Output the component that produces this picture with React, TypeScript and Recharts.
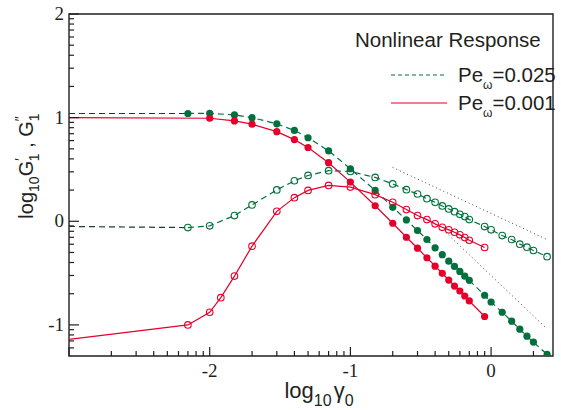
import { ComposedChart, Line, XAxis, YAxis, ReferenceArea, ReferenceLine, Label } from 'recharts';

// log10(gamma0) grid used for the Pe=0.025 runs
const xGreen = [-2.155, -2.0, -1.824, -1.699, -1.523, -1.398, -1.301, -1.155, -1.0, -0.824, -0.699, -0.602, -0.523, -0.456, -0.398, -0.347, -0.301, -0.26, -0.222, -0.187, -0.155, -0.046, 0, 0.079, 0.146, 0.204, 0.255, 0.301, 0.398];
const gpGreen = [1.04, 1.042, 1.026, 1.0, 0.94, 0.877, 0.806, 0.68, 0.507, 0.298, 0.135, 0.013, -0.089, -0.176, -0.256, -0.322, -0.385, -0.436, -0.484, -0.53, -0.57, -0.714, -0.779, -0.878, -0.964, -1.041, -1.109, -1.166, -1.285];
const gppGreen = [-0.061, -0.044, 0.055, 0.158, 0.302, 0.391, 0.442, 0.488, 0.481, 0.423, 0.36, 0.305, 0.263, 0.218, 0.183, 0.148, 0.119, 0.093, 0.067, 0.045, 0.016, -0.051, -0.083, -0.138, -0.176, -0.221, -0.25, -0.282, -0.342];

// Pe=0.001 runs
const xRedP = [-2.0, -1.824, -1.699, -1.523, -1.398, -1.301, -1.155, -1.0, -0.824, -0.699, -0.602, -0.523, -0.456, -0.398, -0.347, -0.301, -0.26, -0.222, -0.187, -0.155, -0.046];
const gpRed = [0.994, 0.968, 0.937, 0.865, 0.788, 0.712, 0.565, 0.378, 0.15, -0.019, -0.154, -0.26, -0.352, -0.433, -0.502, -0.567, -0.625, -0.673, -0.721, -0.769, -0.919];
const xRedPP = [-2.155, -2.0, -1.921, -1.824, -1.699, -1.523, -1.398, -1.301, -1.155, -1.0, -0.824, -0.699, -0.602, -0.523, -0.456, -0.398, -0.347, -0.301, -0.26, -0.222, -0.187, -0.155, -0.046];
const gppRed = [-1.0, -0.878, -0.737, -0.529, -0.24, 0.096, 0.228, 0.298, 0.346, 0.33, 0.257, 0.183, 0.113, 0.055, 0.016, -0.025, -0.058, -0.083, -0.106, -0.131, -0.157, -0.183, -0.253];

// linear-response values continued to the left edge (no markers)
const leadX = -3;
const leadGpGreen = 1.04;
const leadGppGreen = -0.05;
const leadGpRed = 1.0;
const leadGppRed = -1.14;

// power-law guide lines
const guide1 = [{ x: -0.7, y: 0.52 }, { x: 0.4, y: -0.178 }];
const guide2 = [{ x: -0.343, y: -0.08 }, { x: 0.396, y: -1.036 }];

const GREEN = '#00703c';
const GREEN_DARK = '#1c3d2c';
const RED = '#e4002b';
const INK = '#231f20';
const SERIF = "'Liberation Serif', 'Times New Roman', Times, serif";
const SANS = "'Liberation Sans', Arial, sans-serif";

const xMajor = [-2, -1, 0];
const yMajor = [-1, 0, 1, 2];
const X_MIN = -3, X_MAX = 0.44, Y_MIN = -1.3, Y_MAX = 2;

function logTicks(lo: number, hi: number) {
  const out: number[] = [];
  for (let k = Math.floor(lo) - 1; k <= Math.ceil(hi); k++) {
    for (let m = 1; m <= 9; m++) {
      const v = k + Math.log10(m);
      if (v >= lo - 1e-9 && v <= hi + 1e-9) out.push(+v.toFixed(4));
    }
  }
  return out;
}

const pts = (xs: number[], ys: number[]) => xs.map((x, i) => ({ x, y: ys[i] }));
const leadIn = (xs: number[], ys: number[], lead: number) => [{ x: leadX, y: lead }, { x: xs[0], y: ys[0] }];

const isMajor = (v: number) => Math.abs(v - Math.round(v)) < 1e-6;
const fmt = (v: number) => (v < 0 ? '-' + Math.abs(Math.round(v)) : String(Math.round(v)));

const XTick = ({ x, y, payload }: any) => {
  const v = payload.value;
  const major = isMajor(v);
  return (
    <g>
      <line x1={x} x2={x} y1={y} y2={y - (major ? 9 : 5)} stroke={INK} strokeWidth={1.2} />
      {major && xMajor.includes(Math.round(v)) && (
        <text x={x} y={y + 21} textAnchor="middle" fontFamily={SERIF} fontSize={19} style={{ fontFamily: SERIF }} fill={INK}>
          {fmt(v)}
        </text>
      )}
    </g>
  );
};

const YTick = ({ x, y, payload }: any) => {
  const v = payload.value;
  const major = isMajor(v);
  return (
    <g>
      <line x1={x} x2={x + (major ? 10 : 5)} y1={y} y2={y} stroke={INK} strokeWidth={1.2} />
      {major && yMajor.includes(Math.round(v)) && (
        <text x={x - 5} y={y + 6} textAnchor="end" fontFamily={SERIF} fontSize={19} style={{ fontFamily: SERIF }} fill={INK}>
          {fmt(v)}
        </text>
      )}
    </g>
  );
};

const dotFor = (color: string, filled: boolean) => (props: any) => {
  const { cx, cy, index } = props;
  return filled ? (
    <circle key={`d-${index}`} cx={cx} cy={cy} r={3.6} fill={color} stroke="none" />
  ) : (
    <circle key={`d-${index}`} cx={cx} cy={cy} r={3.3} fill="none" stroke={color} strokeWidth={1.1} />
  );
};

const XLabel = ({ viewBox }: any) => {
  const cx = viewBox.x + viewBox.width / 2 + 8;
  const y = viewBox.y + 42;
  return (
    <text x={cx} y={y} textAnchor="middle" style={{ fontFamily: SANS, fontSize: 22 }} fill={INK}>
      log<tspan style={{ fontSize: 16 }} dy={8}>10</tspan>
      <tspan dy={-8} dx={2}>γ</tspan>
      <tspan style={{ fontSize: 16 }} dy={8}>0</tspan>
    </text>
  );
};

const YLabel = () => (
  <text transform="translate(33,166) rotate(-90)" textAnchor="middle" style={{ fontFamily: SANS, fontSize: 20 }} fill={INK}>
    log<tspan style={{ fontSize: 14 }} dy={6}>10</tspan>
    <tspan dy={-6}>G</tspan>
    <tspan style={{ fontSize: 14 }} dy={-8}>′</tspan>
    <tspan style={{ fontSize: 14 }} dx={-3} dy={14}>1</tspan>
    <tspan dy={-6}> , G</tspan>
    <tspan style={{ fontSize: 14 }} dy={-8}>″</tspan>
    <tspan style={{ fontSize: 14 }} dx={-5} dy={14}>1</tspan>
  </text>
);

function LegendBox() {
  const base = { fontFamily: SANS, fontSize: 20.5 };
  return (
    <svg width={561} height={410} style={{ position: 'absolute', left: 0, top: 0, pointerEvents: 'none' }}>
      <text x={355} y={47} style={base} fill={INK}>Nonlinear Response</text>
      <line x1={391} x2={447} y1={75} y2={75} stroke={GREEN} strokeWidth={1.2} strokeDasharray="4 3" />
      <text x={458} y={82} style={base} fill={INK}>
        Pe<tspan style={{ fontSize: 12 }} dy={7}>ω</tspan><tspan dy={-7}>=0.025</tspan>
      </text>
      <line x1={391} x2={447} y1={103} y2={103} stroke={RED} strokeWidth={1.2} />
      <text x={458} y={110} style={base} fill={INK}>
        Pe<tspan style={{ fontSize: 12 }} dy={7}>ω</tspan><tspan dy={-7}>=0.001</tspan>
      </text>
    </svg>
  );
}

export default function App() {
  return (
    <div style={{ position: 'absolute', left: 0, top: 0, width: 561, height: 410, background: '#fff' }}>
      <ComposedChart width={561} height={410} margin={{ top: 14, right: 8, bottom: 24, left: 9 }}>
        <XAxis
          type="number"
          dataKey="x"
          domain={[X_MIN, X_MAX]}
          allowDataOverflow
          ticks={logTicks(X_MIN, X_MAX)}
          interval={0}
          tickSize={0}
          tickMargin={0}
          axisLine={false}
          tickLine={false}
          tick={<XTick />}
          height={30}
        >
          <Label content={<XLabel />} />
        </XAxis>
        <YAxis
          type="number"
          domain={[Y_MIN, Y_MAX]}
          allowDataOverflow
          ticks={logTicks(Y_MIN, Y_MAX)}
          interval={0}
          tickSize={0}
          tickMargin={0}
          axisLine={false}
          tickLine={false}
          tick={<YTick />}
          width={60}
        >
          <Label content={<YLabel />} />
        </YAxis>
        <ReferenceArea x1={X_MIN} x2={X_MAX} y1={Y_MIN} y2={Y_MAX} fill="none" stroke={INK} strokeWidth={1.4} />
        <ReferenceLine segment={guide1} stroke="#444" strokeWidth={1} strokeDasharray="1 3" />
        <ReferenceLine segment={guide2} stroke="#444" strokeWidth={1} strokeDasharray="1 3" />
        <Line data={leadIn(xGreen, gppGreen, leadGppGreen)} dataKey="y" stroke={GREEN_DARK} strokeWidth={1.2} strokeDasharray="6 4" dot={false} isAnimationActive={false} />
        <Line data={leadIn(xGreen, gpGreen, leadGpGreen)} dataKey="y" stroke={GREEN_DARK} strokeWidth={1.2} strokeDasharray="6 4" dot={false} isAnimationActive={false} />
        <Line data={leadIn(xRedPP, gppRed, leadGppRed)} dataKey="y" stroke={RED} strokeWidth={1.2} dot={false} isAnimationActive={false} />
        <Line data={leadIn(xRedP, gpRed, leadGpRed)} dataKey="y" stroke={RED} strokeWidth={1.2} dot={false} isAnimationActive={false} />
        <Line data={pts(xGreen, gppGreen)} dataKey="y" stroke={GREEN} strokeWidth={1.2} strokeDasharray="6 4" dot={dotFor(GREEN, false)} isAnimationActive={false} />
        <Line data={pts(xGreen, gpGreen)} dataKey="y" stroke={GREEN} strokeWidth={1.2} strokeDasharray="6 4" dot={dotFor(GREEN, true)} isAnimationActive={false} />
        <Line data={pts(xRedPP, gppRed)} dataKey="y" stroke={RED} strokeWidth={1.2} dot={dotFor(RED, false)} isAnimationActive={false} />
        <Line data={pts(xRedP, gpRed)} dataKey="y" stroke={RED} strokeWidth={1.2} dot={dotFor(RED, true)} isAnimationActive={false} />
      </ComposedChart>
      <LegendBox />
    </div>
  );
}
